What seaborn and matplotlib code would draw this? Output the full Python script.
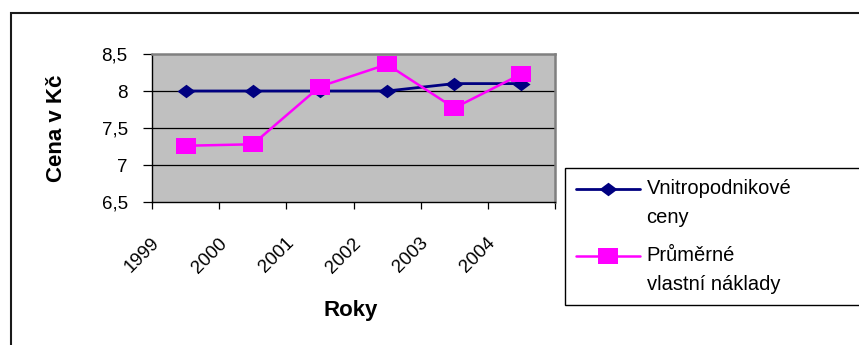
import numpy as np
import pandas as pd
import matplotlib
matplotlib.use("Agg")
import matplotlib.pyplot as plt
import seaborn as sns
from matplotlib.legend_handler import HandlerLine2D
from matplotlib.transforms import Affine2D, ScaledTranslation
from matplotlib.patches import Rectangle
from matplotlib.path import Path

# --- data -------------------------------------------------------------
years = ["1999", "2000", "2001", "2002", "2003", "2004"]
vnitropodnikove_ceny = [8.0, 8.0, 8.0, 8.0, 8.1, 8.1]
prumerne_naklady = [7.26, 7.28, 8.06, 8.36, 7.77, 8.23]
series_labels = ["Vnitropodnikové\nceny", "Průměrné\nvlastní náklady"]
y_ticks = [6.5, 7.0, 7.5, 8.0, 8.5]
y_tick_labels = ["6,5", "7", "7,5", "8", "8,5"]
x_title = "Roky"
y_title = "Cena v Kč"

# --- style ------------------------------------------------------------
sns.set_theme(style="white")
plt.rcParams["font.family"] = ["Liberation Sans", "DejaVu Sans"]
plt.rcParams["text.color"] = "black"
plt.rcParams["axes.labelcolor"] = "black"
plt.rcParams["xtick.color"] = "black"
plt.rcParams["ytick.color"] = "black"

NAVY = "#000080"
MAGENTA = "#FF00FF"
PLOT_BG = "#C0C0C0"

W, H = 859, 345
fig = plt.figure(figsize=(W / 100, H / 100), dpi=100)
fig.patch.set_facecolor("white")
ax = fig.add_axes([152 / W, 1 - 202 / H, 403 / W, 148 / H])
ax.set_facecolor(PLOT_BG)

# category centres sit half a slot right of each boundary tick
pos = np.arange(len(years)) + 0.5
df = pd.DataFrame({
    "pos": np.tile(pos, 2),
    "cena": vnitropodnikove_ceny + prumerne_naklady,
    "serie": np.repeat(series_labels, len(years)),
})

diamond = Path([(-1, 0), (0, 0.75), (1, 0), (0, -0.75), (-1, 0)], closed=True)
square = Path([(-1, -0.82), (1, -0.82), (1, 0.82), (-1, 0.82), (-1, -0.82)], closed=True)

styles = {
    series_labels[0]: dict(color=NAVY, marker=diamond, markersize=13, lw=2.0),
    series_labels[1]: dict(color=MAGENTA, marker=square, markersize=14.5, lw=1.8),
}
for name, kw in styles.items():
    sub = df[df["serie"] == name]
    sns.lineplot(data=sub, x="pos", y="cena", ax=ax, label=name,
                 markeredgewidth=0, zorder=3, **kw)

# --- axes -------------------------------------------------------------
ax.set_xlim(0, len(years))
ax.set_ylim(y_ticks[0], y_ticks[-1])
ax.set_yticks(y_ticks)
ax.set_yticklabels(y_tick_labels)
ax.set_xticks(np.arange(len(years) + 1))
ax.set_xticklabels(years + [""])

for y in y_ticks[1:-1]:
    ax.axhline(y, color="black", lw=0.9, zorder=1)

for side in ("left", "bottom"):
    ax.spines[side].set_color("black")
    ax.spines[side].set_linewidth(1.0)
for side in ("top", "right"):
    ax.spines[side].set_color("#808080")
    ax.spines[side].set_linewidth(1.8)

ax.tick_params(axis="y", direction="out", length=6.5, width=0.9, color="black",
               pad=11, labelsize=13.5, left=True)
ax.tick_params(axis="x", direction="out", length=5, width=0.9, color="black",
               pad=18.5, labelsize=13.5, bottom=True)

shift = ScaledTranslation(-1 / 100, 0, fig.dpi_scale_trans)
for lab in ax.get_xticklabels():
    lab.set_rotation(45)
    lab.set_ha("right")
    lab.set_va("top")
    lab.set_rotation_mode("anchor")
    lab.set_transform(lab.get_transform() + shift)

ax.set_xlabel(x_title, fontsize=16, fontweight="bold")
ax.xaxis.label.set_va("baseline")
ax.xaxis.set_label_coords((351 - 152) / 403, (202 - 316) / 148)
ax.set_ylabel(y_title, fontsize=16, fontweight="bold")
ax.yaxis.set_label_coords((67 - 152) / 403, 0.5)

# --- legend -----------------------------------------------------------
class FirstLineHandler(HandlerLine2D):
    """Line handle raised to sit beside the first line of a two-line label."""

    def __init__(self, lift, **kw):
        super().__init__(**kw)
        self.lift = lift

    def create_artists(self, legend, orig_handle, xdescent, ydescent,
                       width, height, fontsize, trans):
        trans = Affine2D().translate(0, self.lift) + trans
        return super().create_artists(legend, orig_handle, xdescent, ydescent,
                                      width, height, fontsize, trans)


if ax.get_legend():
    ax.get_legend().remove()
handles = ax.get_lines()[:2]
lift_pt = 14 * 0.72
leg = fig.legend(
    handles, series_labels,
    loc="upper left",
    bbox_to_anchor=(565 / W, 0, 400 / W, 1 - 168 / H),
    bbox_transform=fig.transFigure,
    mode="expand",
    borderaxespad=0,
    fontsize=14.5,
    handlelength=3.15,
    handletextpad=0.35,
    borderpad=0.55,
    labelspacing=0.95,
    frameon=True,
    fancybox=False,
    handler_map={h: FirstLineHandler(lift_pt) for h in handles},
)
leg.get_frame().set_edgecolor("black")
leg.get_frame().set_linewidth(1.0)
leg.get_frame().set_facecolor("white")
leg.get_frame().set_alpha(1)
for t in leg.get_texts():
    t.set_linespacing(1.65)

# outer chart frame (runs off the right and bottom edges)
fig.patches.append(Rectangle((11 / W, -0.2), 1.2, 1.2 - 13 / H,
                             transform=fig.transFigure, fill=False,
                             edgecolor="#1a1a1a", lw=1.5, clip_on=False))

fig.savefig("out.png", dpi=100, facecolor="white")
